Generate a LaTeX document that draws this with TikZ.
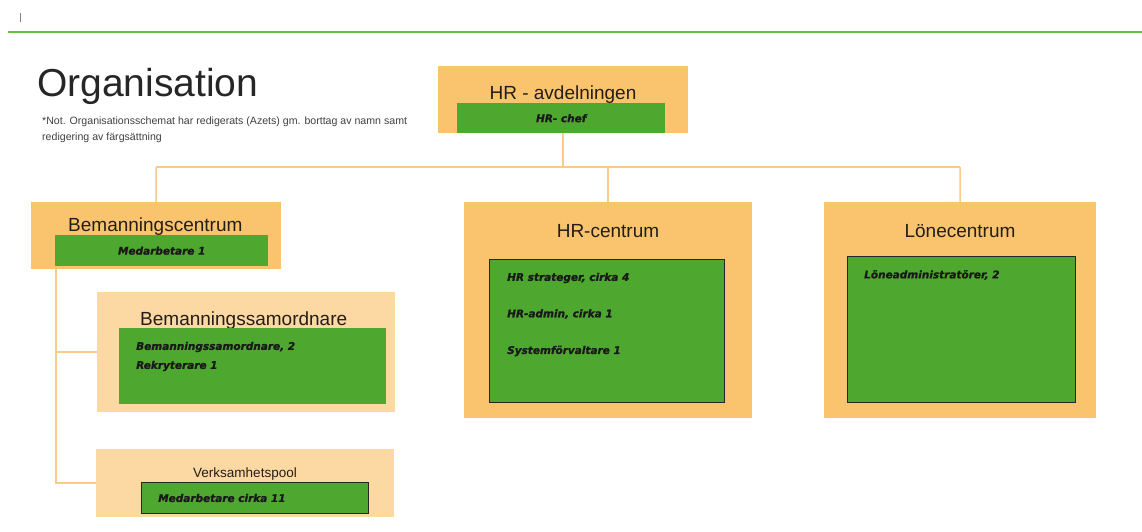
\documentclass[tikz,border=0pt]{standalone}
\usepackage{fontspec}
\setmainfont{Liberation Sans}
\newfontfamily\boldit{DejaVu Sans Bold Oblique}[FakeBold=1.2]
\definecolor{orangeA}{RGB}{250,196,110}
\definecolor{orangeB}{RGB}{252,217,162}
\definecolor{greenA}{RGB}{78,167,46}
\definecolor{lineC}{RGB}{250,202,140}
\definecolor{topG}{RGB}{106,190,70}
\definecolor{txt}{RGB}{35,30,25}
\begin{document}
\begin{tikzpicture}[x=1pt,y=-1pt,
  obox/.style={fill=orangeA,draw=none,inner sep=0pt,anchor=north west},
  lbox/.style={fill=orangeB,draw=none,inner sep=0pt,anchor=north west},
  gbox/.style={fill=greenA,draw=none,inner sep=0pt,anchor=north west},
  gboxb/.style={fill=greenA,draw=black!85,line width=1.2pt,inner sep=0pt,anchor=north west},
  head/.style={text=txt,inner sep=0pt,font=\fontsize{19}{22}\selectfont},
  item/.style={text=black!90,inner sep=0pt,font=\boldit\fontsize{10.5}{12}\selectfont},
  conn/.style={draw=lineC,line width=1.5pt}]
\useasboundingbox[fill=white] (0,0) rectangle (1142,531);
% top decorations
\draw[gray,line width=0.8pt] (20,13) -- (20,22);
\draw[topG,line width=2.2pt] (8,32) -- (1142,32);
\node[anchor=base west,inner sep=0pt,text=black!85,font=\fontsize{39}{44}\selectfont] (title) at (37,96) {Organisation};
\node[anchor=north west,inner sep=0pt,text=black!75,font=\fontsize{10.6}{15.5}\selectfont,align=left] (note) at (42,117) {*Not. Organisationsschemat har redigerats (Azets) gm. borttag av namn samt\\redigering av färgsättning};
% HR-avdelningen
\node[obox,minimum width=250pt,minimum height=67pt] (hravd) at (438,66) {};
\node[head] (hravdT) at (563,95) {HR - avdelningen};
\node[gbox,minimum width=208pt,minimum height=30pt] (hrchef) at (457,103) {};
\node[item] (hrchefT) at (hrchef.center) {HR- chef};
% Bemanningscentrum
\node[obox,minimum width=250pt,minimum height=67pt] (bemc) at (31,202) {};
\node[head,anchor=west] (bemcT) at (68,227) {Bemanningscentrum};
\node[gbox,minimum width=213pt,minimum height=31pt] (bemcG) at (55,235) {};
\node[item] (bemcGT) at (bemcG.center) {Medarbetare 1};
% HR-centrum
\node[obox,minimum width=288pt,minimum height=216pt] (hrc) at (464,202) {};
\node[head] (hrcT) at (608,231) {HR-centrum};
\node[gboxb,minimum width=235pt,minimum height=143pt] (hrcG) at (489,259) {};
\node[item,anchor=west] (hrc1) at (507,278) {HR strateger, cirka 4};
\node[item,anchor=west] (hrc2) at (507,314) {HR-admin, cirka 1};
\node[item,anchor=west] (hrc3) at (507,351) {Systemförvaltare 1};
% Lönecentrum
\node[obox,minimum width=272pt,minimum height=216pt] (lonc) at (824,202) {};
\node[head] (loncT) at (960,231) {Lönecentrum};
\node[gboxb,minimum width=228pt,minimum height=146pt] (loncG) at (847,256) {};
\node[item,anchor=west] (lonc1) at (864,275) {Löneadministratörer, 2};
% Bemanningssamordnare
\node[lbox,minimum width=298pt,minimum height=120pt] (bsam) at (97,292) {};
\node[head,anchor=west] (bsamT) at (140,321) {Bemanningssamordnare};
\node[gbox,minimum width=267pt,minimum height=76pt] (bsamG) at (119,328) {};
\node[item,anchor=west] (bsam1) at (136,347) {Bemanningssamordnare, 2};
\node[item,anchor=west] (bsam2) at (136,366) {Rekryterare 1};
% Verksamhetspool
\node[lbox,minimum width=298pt,minimum height=68pt] (vpool) at (96,449) {};
\node[text=txt,inner sep=0pt,font=\fontsize{13.5}{16}\selectfont] (vpoolT) at (245,474) {Verksamhetspool};
\node[gboxb,minimum width=227pt,minimum height=31pt] (vpoolG) at (141,482) {};
\node[item,anchor=west] (vpool1) at (158,498) {Medarbetare cirka 11};
% connectors
\coordinate (busL) at (156,167);
\coordinate (busR) at (960,167);
\draw[conn] (busL) -- (busR);
\draw[conn] (hravd.south) -- (hravd.south |- busL);
\draw[conn] (busL) -- (bemc.north);
\draw[conn] (hrc.north |- busL) -- (hrc.north);
\draw[conn] (busR) -- (lonc.north);
\coordinate (tl) at ([xshift=25pt]bemc.south west);
\draw[conn] (tl) |- (vpool.west);
\draw[conn] (tl) |- (bsam.west);
\end{tikzpicture}
\end{document}
